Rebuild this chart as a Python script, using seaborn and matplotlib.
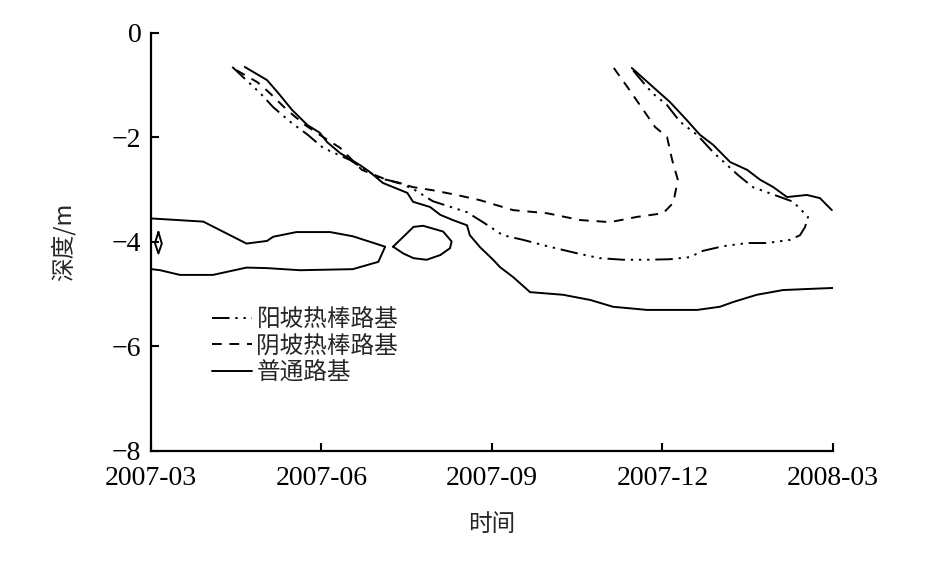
import matplotlib
matplotlib.use("Agg")
import matplotlib.pyplot as plt
import seaborn as sns

# x in months after 2007-03, y = depth (m)
month_ticks = [0, 3, 6, 9, 12]
month_labels = ["2007-03", "2007-06", "2007-09", "2007-12", "2008-03"]

# 阳坡热棒路基 (dash-dot-dot)
sunny_x = [1.43, 1.92, 2.15, 2.45, 2.76, 3.03, 3.50, 3.77, 4.03, 4.38, 4.65, 4.96,
           5.56, 5.84, 6.19, 6.55, 6.97, 7.55, 7.90, 8.31, 8.73, 9.13, 9.48, 9.71,
           10.07, 10.49, 10.84, 11.24, 11.42, 11.51, 11.56, 11.30, 10.59, 10.33,
           9.89, 9.61, 9.31, 9.08, 8.82, 8.43]
sunny_y = [-0.65, -1.15, -1.42, -1.70, -1.95, -2.20, -2.43, -2.62, -2.78, -2.87,
           -3.01, -3.22, -3.43, -3.62, -3.87, -3.96, -4.08, -4.23, -4.31, -4.34,
           -4.34, -4.33, -4.29, -4.17, -4.08, -4.02, -4.02, -3.96, -3.87, -3.71,
           -3.52, -3.23, -2.95, -2.72, -2.28, -1.95, -1.70, -1.38, -1.15, -0.65]

# 阴坡热棒路基 (dashed)
shady_x = [1.50, 1.87, 2.09, 2.39, 2.71, 2.97, 3.33, 3.71, 4.15, 4.61, 4.96, 5.38,
           5.79, 6.37, 6.97, 7.55, 8.08, 8.55, 9.01, 9.19, 9.27, 9.17, 9.08, 8.87,
           8.66, 8.38, 8.13]
shady_y = [-0.71, -0.94, -1.15, -1.47, -1.76, -1.95, -2.20, -2.62, -2.81, -2.95,
           -3.01, -3.10, -3.20, -3.39, -3.45, -3.58, -3.62, -3.52, -3.45, -3.25,
           -2.81, -2.43, -1.99, -1.80, -1.47, -1.03, -0.65]

# 普通路基 (solid): lower freezing front
plain_x = [1.65, 2.04, 2.24, 2.48, 2.75, 2.97, 3.10, 3.33, 3.68, 3.85, 4.08, 4.51,
           4.61, 4.91, 5.09, 5.31, 5.56, 5.61, 5.79, 6.02, 6.14, 6.37, 6.67, 7.25,
           7.73, 8.13, 8.73, 9.61, 10.01, 10.24, 10.66, 11.12, 11.54, 12.0]
plain_y = [-0.65, -0.90, -1.15, -1.47, -1.76, -1.91, -2.09, -2.30, -2.53, -2.66,
           -2.87, -3.06, -3.23, -3.33, -3.48, -3.58, -3.68, -3.87, -4.10, -4.34,
           -4.48, -4.67, -4.96, -5.01, -5.11, -5.24, -5.30, -5.30, -5.24, -5.15,
           -5.01, -4.92, -4.90, -4.88]

# 普通路基: upper freezing front (second winter)
plain2_x = [8.46, 8.83, 9.13, 9.43, 9.66, 9.89, 10.19, 10.49, 10.72, 10.95, 11.19,
            11.54, 11.77, 11.98]
plain2_y = [-0.67, -1.03, -1.32, -1.67, -1.95, -2.14, -2.47, -2.62, -2.81, -2.95,
            -3.14, -3.10, -3.16, -3.39]

# 普通路基: residual frozen lens on the left
lens1_x = [0.01, 0.92, 1.68, 2.04, 2.15, 2.56, 3.15, 3.55, 4.12, 4.00, 3.55, 2.62,
           2.04, 1.68, 1.09, 0.51, 0.16, 0.01]
lens1_y = [-3.55, -3.61, -4.03, -3.98, -3.90, -3.81, -3.81, -3.89, -4.09, -4.38,
           -4.52, -4.54, -4.50, -4.49, -4.63, -4.63, -4.54, -4.52]

# 普通路基: tiny lens at the axis
lens2_x = [0.13, 0.19, 0.13, 0.07, 0.13]
lens2_y = [-3.81, -4.03, -4.22, -4.02, -3.81]

# 普通路基: closed lens in the middle
lens3_x = [4.26, 4.62, 4.79, 5.14, 5.29, 5.26, 5.09, 4.85, 4.62, 4.44, 4.26]
lens3_y = [-4.09, -3.71, -3.69, -3.80, -3.99, -4.12, -4.25, -4.34, -4.31, -4.22, -4.09]

sns.set_style("ticks")
plt.rcParams['font.family'] = ['Noto Sans CJK SC', 'DejaVu Sans']
plt.rcParams['axes.unicode_minus'] = True

fig = plt.figure(figsize=(9.35, 5.87), dpi=100)
ax = fig.add_axes([0.1615, 0.2317, 0.7294, 0.7121])

lw = 1.4
dashdot = (0, (9, 3, 1.2, 3, 1.2, 3, 1.2, 3))
dash = (0, (5, 4))

# estimator=None: each curve is a contour path, not something to aggregate
sns.lineplot(x=sunny_x, y=sunny_y, sort=False, estimator=None, color="black",
             lw=lw, linestyle=dashdot, ax=ax, label="阳坡热棒路基")
sns.lineplot(x=shady_x, y=shady_y, sort=False, estimator=None, color="black",
             lw=lw, linestyle=dash, ax=ax, label="阴坡热棒路基")
sns.lineplot(x=plain_x, y=plain_y, sort=False, estimator=None, color="black",
             lw=lw, ax=ax, label="普通路基")
for xs, ys in [(plain2_x, plain2_y), (lens1_x, lens1_y),
               (lens2_x, lens2_y), (lens3_x, lens3_y)]:
    sns.lineplot(x=xs, y=ys, sort=False, estimator=None, color="black", lw=lw,
                 ax=ax, legend=False)

ax.set_xlim(0, 12)
ax.set_ylim(-8, 0)
ax.set_xticks(month_ticks)
ax.set_xticklabels(month_labels)
ax.set_yticks([0, -2, -4, -6, -8])
ax.set_yticklabels(["0", "\u22122", "\u22124", "\u22126", "\u22128"])
for lab in ax.get_xticklabels() + ax.get_yticklabels():
    lab.set_fontfamily("Liberation Serif")
    lab.set_fontsize(20)
ax.tick_params(direction="in", length=6, width=1.5, colors="black")
ax.tick_params(axis="x", pad=11)
ax.tick_params(axis="y", pad=7)
for s in ["top", "right"]:
    ax.spines[s].set_visible(False)
for s in ["left", "bottom"]:
    ax.spines[s].set_linewidth(1.6)
    ax.spines[s].set_color("black")

ax.set_xlabel("时间", fontsize=17, labelpad=16)
ax.set_ylabel("深度/m", fontsize=17, labelpad=26)

ax.legend(loc="upper left", bbox_to_anchor=(0.075, 0.365), frameon=False,
          fontsize=17, handlelength=1.7, handletextpad=0.2, labelspacing=0.15,
          borderaxespad=0)

fig.savefig("out.png", dpi=100)
